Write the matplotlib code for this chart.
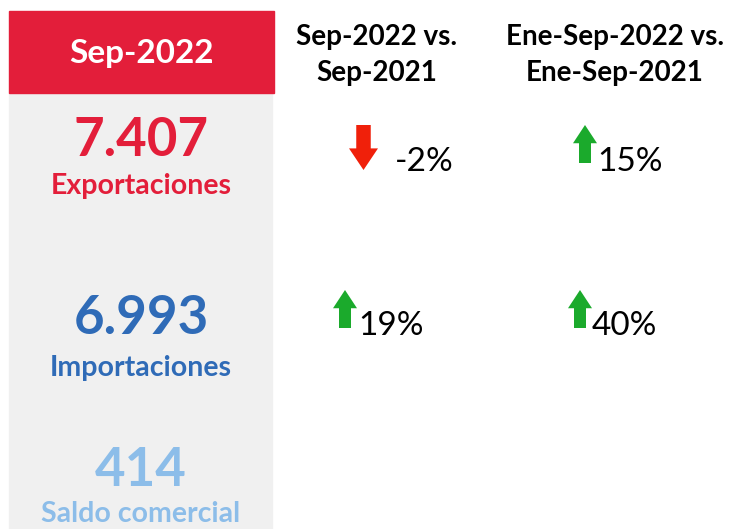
import matplotlib.pyplot as plt
from matplotlib.patches import Rectangle, Polygon

# data
month = "Sep-2022"
indicators = ["Exportaciones", "Importaciones", "Saldo comercial"]
values = [7407, 6993, 414]
headers = ["Sep-2022 vs.\nSep-2021", "Ene-Sep-2022 vs.\nEne-Sep-2021"]
var_month = [-2, 19]      # Exportaciones, Importaciones
var_ytd = [15, 40]

RED = "#E31E3A"
colors = [RED, "#2F6BB7", "#8CBDE9"]
UP = "#1BAA2C"
DOWN = "#F0200A"

plt.rcParams["font.family"] = ["Lato", "DejaVu Sans"]

fig = plt.figure(figsize=(7.31, 5.29), dpi=100)
ax = fig.add_axes([0, 0, 1, 1])
ax.set_xlim(0, 731)
ax.set_ylim(529, 0)
ax.axis("off")

# left panel
ax.add_patch(Rectangle((9, 93), 263, 440, color="#F0F0F0", zorder=0))
ax.add_patch(Rectangle((9, 11), 265, 82, color=RED, zorder=1))
ax.text(141, 54, month, color="white", fontsize=24, fontweight="bold",
        ha="center", va="center")

row_y = [140, 318, 471]
label_dy = [46, 50, 43]
for y, dy, name, val, c in zip(row_y, label_dy, indicators, values, colors):
    ax.text(141, y, f"{val:,}".replace(",", "."), color=c, fontsize=38,
            fontweight="bold", ha="center", va="center")
    ax.text(141, y + dy, name, color=c, fontsize=20.5, fontweight="bold",
            ha="center", va="center")

# column headers
col_x = [377, 615]
for x, h in zip(col_x, headers):
    ax.text(x, 55, h, color="black", fontsize=20, fontweight="bold",
            ha="center", va="center", linespacing=1.45)


def arrow(x, y, up, w, h):
    # x: left edge, y: top edge
    sw = w * 0.5
    hh = h * 0.48
    c = UP if up else DOWN
    if up:
        pts = [(x + w / 2, y), (x + w, y + hh), (x + w / 2 + sw / 2, y + hh),
               (x + w / 2 + sw / 2, y + h), (x + w / 2 - sw / 2, y + h),
               (x + w / 2 - sw / 2, y + hh), (x, y + hh)]
    else:
        pts = [(x + w / 2, y + h), (x + w, y + h - hh), (x + w / 2 + sw / 2, y + h - hh),
               (x + w / 2 + sw / 2, y), (x + w / 2 - sw / 2, y),
               (x + w / 2 - sw / 2, y + h - hh), (x, y + h - hh)]
    ax.add_patch(Polygon(pts, closed=True, color=c, lw=0))


# variations
rows = [(125, 162), (290, 326)]
cells = [
    (rows[0], 349, var_month[0], 395),
    (rows[0], 573, var_ytd[0], 597),
    (rows[1], 333, var_month[1], 358),
    (rows[1], 568, var_ytd[1], 592),
]
for (ay, ty), ax0, v, tx in cells:
    up = v >= 0
    if up:
        arrow(ax0, ay, True, 24, 38)
    else:
        arrow(ax0, ay, False, 29, 45)
    ax.text(tx, ty, f"{v}%", color="black", fontsize=24, ha="left", va="center")

fig.savefig("out.png", dpi=100, facecolor="white")
